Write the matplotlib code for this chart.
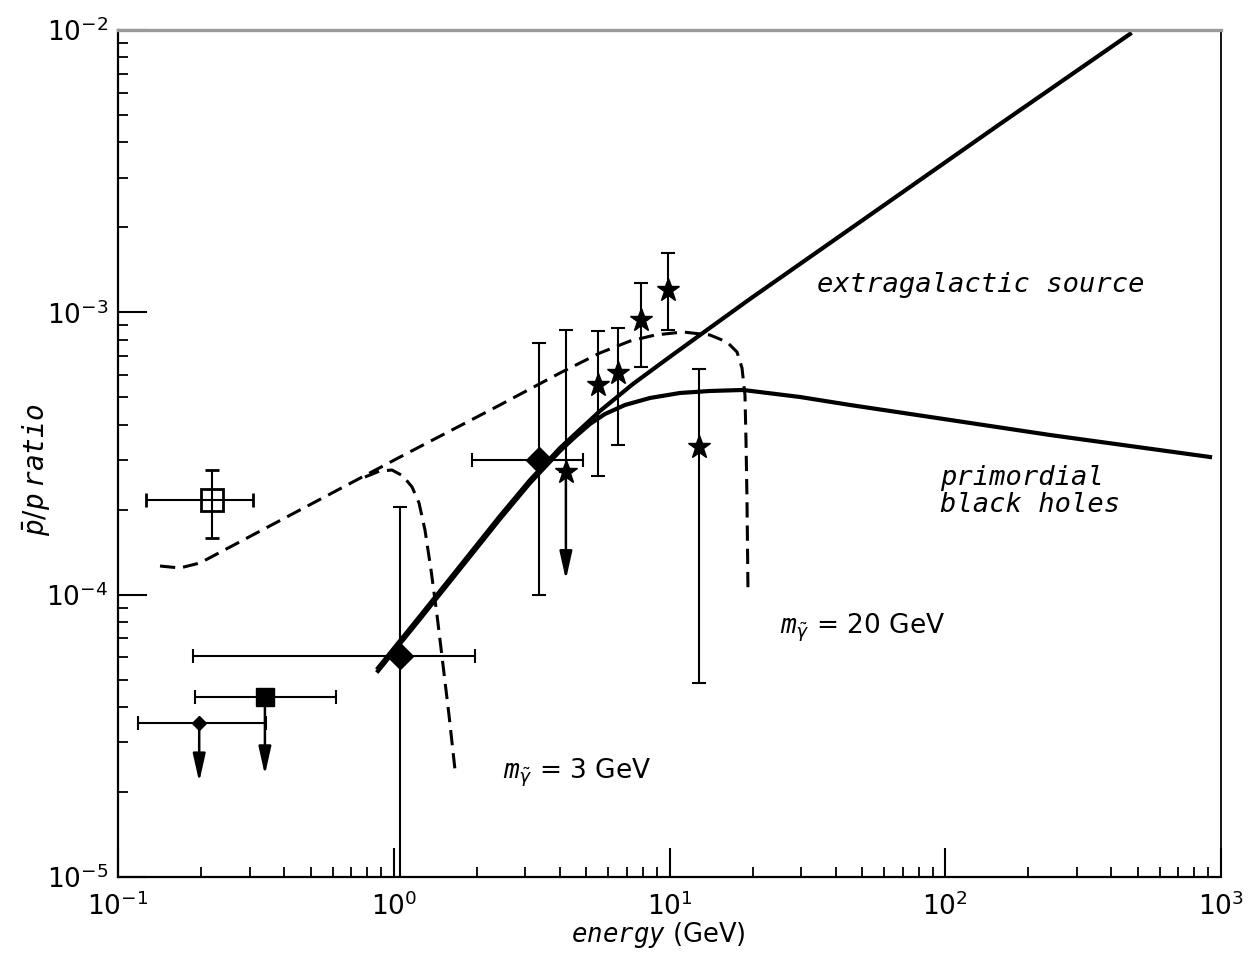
import numpy as np
import matplotlib
matplotlib.use('Agg')
import matplotlib.pyplot as plt
from matplotlib.ticker import LogLocator, NullFormatter

plt.rcParams['mathtext.fontset'] = 'custom'
plt.rcParams['mathtext.rm'] = 'DejaVu Sans'
plt.rcParams['mathtext.it'] = 'DejaVu Sans Mono:italic'
plt.rcParams['mathtext.bf'] = 'DejaVu Sans:bold'

# model curves: energy (GeV) and pbar/p ratio
eg_e = [0.877, 1.245, 1.739, 2.428, 3.120, 4.008, 5.597, 7.374, 9.79, 12.90, 19.58, 45.14, 158.0, 467.7]
eg_r = [5.50e-5, 8.40e-5, 1.263e-4, 1.900e-4, 2.547e-4, 3.308e-4, 4.472e-4, 5.576e-4, 6.835e-4, 8.31e-4, 1.115e-3, 1.973e-3, 4.646e-3, 9.679e-3]

pbh_e = [0.877, 1.245, 1.739, 2.428, 3.120, 4.008, 4.543, 5.149, 5.836, 6.897, 8.50, 10.92, 14.02, 18.48, 29.73, 45.14, 104.0, 239.8, 912.4]
pbh_r = [5.366e-5, 8.197e-5, 1.233e-4, 1.854e-4, 2.486e-4, 3.228e-4, 3.617e-4, 4.023e-4, 4.364e-4, 4.697e-4, 4.973e-4, 5.18e-4, 5.265e-4, 5.308e-4, 5.013e-4, 4.697e-4, 4.157e-4, 3.677e-4, 3.073e-4]

# photino annihilation, m = 20 GeV
d20_e = [0.142, 0.1678, 0.1983, 0.457, 1.054, 2.428, 4.008, 5.597, 7.192, 8.86, 11.19, 14.02, 16.16, 17.57, 18.32, 18.78, 18.94, 19.10, 19.26]
d20_r = [1.263e-4, 1.243e-4, 1.295e-4, 1.995e-4, 3.073e-4, 4.697e-4, 6.097e-4, 7.18e-4, 7.91e-4, 8.31e-4, 8.517e-4, 8.31e-4, 7.85e-4, 7.236e-4, 6.35e-4, 5.096e-4, 3.53e-4, 2.164e-4, 1.022e-4]

# photino annihilation, m = 3 GeV
d3_e = [0.786, 0.891, 0.9856, 1.080, 1.165, 1.235, 1.298, 1.365, 1.435, 1.509, 1.586, 1.668]
d3_r = [2.61e-4, 2.742e-4, 2.763e-4, 2.633e-4, 2.406e-4, 2.112e-4, 1.694e-4, 1.223e-4, 8.47e-5, 5.63e-5, 3.749e-5, 2.393e-5]

# measurements
osq_e, osq_r = 0.219, 2.16e-4
osq_elo, osq_ehi = 0.126, 0.309
osq_rlo, osq_rhi = 1.59e-4, 2.77e-4

fsq_e, fsq_r = 0.341, 4.34e-5
fsq_elo, fsq_ehi = 0.190, 0.618
fsq_tip = 2.30e-5

sm_e, sm_r = 0.197, 3.51e-5
sm_elo, sm_ehi = 0.118, 0.344
sm_tip = 2.17e-5

dia_e = [1.05, 3.36]
dia_r = [6.07e-5, 3.0e-4]
dia_elo = [0.187, 1.92]
dia_ehi = [1.97, 4.86]
dia_rlo = [5e-6, 9.97e-5]
dia_rhi = [2.04e-4, 7.78e-4]

star_e = [5.50, 6.51, 7.88, 9.88, 12.8]
star_r = [5.53e-4, 6.1e-4, 9.39e-4, 1.2e-3, 3.33e-4]
star_lo = [2.63e-4, 3.39e-4, 6.4e-4, 8.66e-4, 4.86e-5]
star_hi = [8.6e-4, 8.8e-4, 1.27e-3, 1.62e-3, 6.3e-4]

lim_e, lim_r = 4.21, 2.72e-4
lim_hi = 8.66e-4
lim_tip = 1.13e-4


def down_arrow(ax, x, y0, y1):
	ax.annotate('', xy=(x, y1), xytext=(x, y0),
		arrowprops=dict(arrowstyle='-|>,head_length=1.7,head_width=0.38',
			color='k', lw=1.8, shrinkA=0, shrinkB=0))


fig = plt.figure(figsize=(12.5, 9.55), dpi=100)
ax = fig.add_axes([0.0944, 0.0817, 0.8824, 0.8869])
ax.set_xscale('log')
ax.set_yscale('log')
ax.set_xlim(0.1, 1000)
ax.set_ylim(1e-5, 1e-2)

ax.plot(eg_e, eg_r, color='k', lw=3.0)
ax.plot(pbh_e, pbh_r, color='k', lw=3.0)
ax.plot(d20_e, d20_r, color='k', lw=2.2, dashes=(5, 2.6))
ax.plot(d3_e, d3_r, color='k', lw=2.2, dashes=(5, 2.6))

eb = dict(ecolor='k', elinewidth=1.5, capsize=5, capthick=1.5, ls='none')

ax.errorbar([osq_e], [osq_r], xerr=[[osq_e - osq_elo], [osq_ehi - osq_e]],
	yerr=[[osq_r - osq_rlo], [osq_rhi - osq_r]], marker='s', ms=16,
	mfc='none', mec='k', mew=2.0, **eb)

ax.errorbar([fsq_e], [fsq_r], xerr=[[fsq_e - fsq_elo], [fsq_ehi - fsq_e]],
	marker='s', ms=13, color='k', **eb)
down_arrow(ax, fsq_e, fsq_r, fsq_tip)

ax.errorbar([sm_e], [sm_r], xerr=[[sm_e - sm_elo], [sm_ehi - sm_e]],
	marker='D', ms=7, color='k', **eb)
down_arrow(ax, sm_e, sm_r, sm_tip)

ax.errorbar(dia_e, dia_r,
	xerr=[np.subtract(dia_e, dia_elo), np.subtract(dia_ehi, dia_e)],
	yerr=[np.subtract(dia_r, dia_rlo), np.subtract(dia_rhi, dia_r)],
	marker='D', ms=13, color='k', **eb)

ax.errorbar(star_e, star_r,
	yerr=[np.subtract(star_r, star_lo), np.subtract(star_hi, star_r)],
	marker='*', ms=17, color='k', **eb)

ax.errorbar([lim_e], [lim_r], yerr=[[0], [lim_hi - lim_r]],
	marker='*', ms=17, color='k', **eb)
down_arrow(ax, lim_e, lim_r, lim_tip)

# curve labels
mono = dict(family='DejaVu Sans Mono', style='oblique', size=19.5)
ax.text(34.3, 1.25e-3, 'extragalactic source', ha='left', va='center', **mono)
ax.text(95.7, 2.31e-4, 'primordial\nblack holes', ha='left', va='center',
	linespacing=1.05, **mono)
ax.text(25.2, 7.62e-5, r'$m_{\tilde{\gamma}}$ = 20 GeV', size=19, ha='left', va='center')
ax.text(2.49, 2.33e-5, r'$m_{\tilde{\gamma}}$ = 3 GeV', size=19, ha='left', va='center')

ax.set_xlabel(r'$energy$ (GeV)', size=18.5)
ax.xaxis.set_label_coords(0.4896, -0.051)
ax.set_ylabel(r'$\bar{p}/p\ ratio$', size=20)
ax.yaxis.set_label_coords(-0.060, 0.4805)

for axis in (ax.xaxis, ax.yaxis):
	axis.set_major_locator(LogLocator(base=10, numticks=10))
	axis.set_minor_locator(LogLocator(base=10, subs=np.arange(2, 10), numticks=100))
	axis.set_minor_formatter(NullFormatter())

ax.tick_params(which='major', direction='in', length=21, width=1.5,
	labelsize=19, top=False, right=False)
ax.tick_params(which='minor', direction='in', length=7.5, width=1.3,
	top=False, right=False)
ax.tick_params(axis='x', which='major', pad=11)
ax.tick_params(axis='y', which='major', pad=7)

ax.spines['top'].set_color('#9a9a9a')
ax.spines['top'].set_linewidth(2.4)
ax.spines['top'].set_zorder(5)
ax.spines['left'].set_linewidth(1.6)
ax.spines['bottom'].set_linewidth(1.6)
ax.spines['right'].set_linewidth(1.3)

plt.savefig('out.png', dpi=100)
plt.close(fig)
